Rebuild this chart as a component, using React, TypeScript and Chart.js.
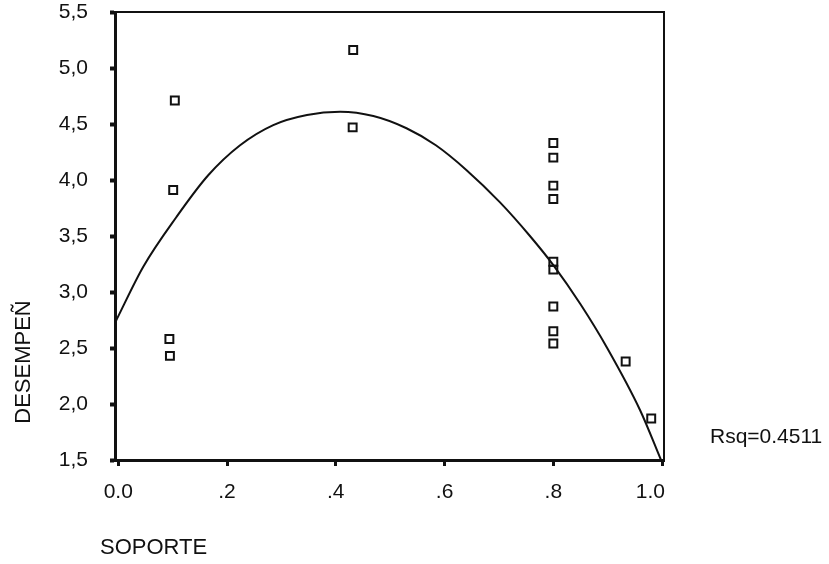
import { useEffect, useRef } from 'react';
import { Chart, registerables } from 'chart.js';

Chart.register(...registerables);

// Observed cases: SOPORTE (x) against DESEMPEÑ (y)
const soporte = [0.104, 0.101, 0.094, 0.095, 0.432, 0.431, 0.8, 0.8, 0.8, 0.8, 0.8, 0.8, 0.8, 0.8, 0.8, 0.933, 0.98];
const desempeno = [4.71, 3.91, 2.58, 2.43, 5.16, 4.47, 4.33, 4.2, 3.95, 3.83, 3.27, 3.2, 2.87, 2.65, 2.54, 2.38, 1.87];

// Fitted curve, sampled along SOPORTE
const curveX = [-0.005, 0.046, 0.107, 0.165, 0.224, 0.285, 0.347, 0.408, 0.469, 0.53, 0.584, 0.64, 0.702, 0.757, 0.8, 0.85, 0.899, 0.96, 0.998];
const curveY = [2.735, 3.226, 3.67, 4.04, 4.31, 4.49, 4.58, 4.609, 4.571, 4.462, 4.31, 4.09, 3.8, 3.5, 3.24, 2.89, 2.5, 1.94, 1.5];

// Axis ticks
const xTicks = [0, 0.2, 0.4, 0.6, 0.8, 1.0];
const xTickLabels = ['0.0', '.2', '.4', '.6', '.8', '1.0'];
const yTicks = [1.5, 2.0, 2.5, 3.0, 3.5, 4.0, 4.5, 5.0, 5.5];
const yTickLabels = ['1,5', '2,0', '2,5', '3,0', '3,5', '4,0', '4,5', '5,0', '5,5'];

const xTitle = 'SOPORTE';
const yTitle = 'DESEMPEÑ';
const fitNote = 'Rsq=0.4511';

const FONT = '"Liberation Sans", Arial, Helvetica, sans-serif';
const INK = '#111';

// Box around the plot area plus the axis captions and fit statistic
const framePlugin = {
  id: 'frameAndCaptions',
  afterDatasetsDraw(chart: any) {
    const { ctx, chartArea: a } = chart;
    ctx.save();
    ctx.strokeStyle = INK;
    ctx.lineWidth = 2;
    ctx.strokeRect(a.left, a.top, a.right - a.left, a.bottom - a.top);
    ctx.restore();
  },
  afterDraw(chart: any) {
    const { ctx, chartArea: a } = chart;
    ctx.save();
    ctx.fillStyle = INK;
    ctx.textBaseline = 'middle';

    ctx.font = `22px ${FONT}`;
    ctx.textAlign = 'left';
    ctx.fillText(xTitle, a.left - 15, a.bottom + 88);

    ctx.font = `21px ${FONT}`;
    ctx.fillText(fitNote, a.right + 46, a.bottom - 23);

    ctx.font = `22px ${FONT}`;
    ctx.translate(a.left - 91, a.bottom - 98);
    ctx.rotate(-Math.PI / 2);
    ctx.textAlign = 'center';
    ctx.fillText(yTitle, 0, 0);
    ctx.restore();
  },
};

export default function App() {
  const canvasRef = useRef<HTMLCanvasElement | null>(null);

  useEffect(() => {
    const canvas = canvasRef.current;
    if (!canvas) return;

    const tickFont = { family: FONT, size: 21, lineHeight: 1.1 };

    const chart = new Chart(canvas, {
      type: 'scatter',
      data: {
        datasets: [
          {
            label: 'DESEMPEÑ',
            data: soporte.map((x, i) => ({ x, y: desempeno[i] })),
            pointStyle: 'rect',
            pointRadius: 5.6,
            pointHoverRadius: 5.6,
            borderWidth: 2,
            borderColor: INK,
            backgroundColor: 'rgba(0,0,0,0)',
            order: 0,
          },
          {
            label: 'Ajuste',
            data: curveX.map((x, i) => ({ x, y: curveY[i] })),
            showLine: true,
            cubicInterpolationMode: 'monotone',
            borderColor: INK,
            borderWidth: 2,
            pointRadius: 0,
            pointHoverRadius: 0,
            fill: false,
            order: 1,
          } as any,
        ],
      },
      plugins: [framePlugin],
      options: {
        responsive: false,
        devicePixelRatio: 1,
        animation: false,
        events: [],
        layout: { padding: { left: 0, top: 12, right: 165, bottom: 0 } },
        plugins: {
          legend: { display: false },
          tooltip: { enabled: false },
        },
        scales: {
          x: {
            type: 'linear',
            min: -0.006,
            max: 1.0035,
            afterBuildTicks: (scale: any) => {
              scale.ticks = xTicks.map((value) => ({ value }));
            },
            afterFit: (scale: any) => {
              scale.height = 104;
              scale.paddingLeft = 0;
              scale.paddingRight = 0;
            },
            border: { display: true, color: INK, width: 3 },
            grid: {
              display: true,
              drawOnChartArea: false,
              drawTicks: true,
              tickLength: 6,
              tickWidth: 3,
              tickColor: INK,
            },
            ticks: {
              color: INK,
              font: tickFont,
              padding: 15,
              maxRotation: 0,
              autoSkip: false,
              callback: (_v: any, index: number) =>
                index === xTickLabels.length - 1
                  ? xTickLabels[index] + '    '
                  : xTickLabels[index],
            },
          },
          y: {
            type: 'linear',
            min: 1.5,
            max: 5.5,
            afterBuildTicks: (scale: any) => {
              scale.ticks = yTicks.map((value) => ({ value }));
            },
            afterFit: (scale: any) => {
              scale.width = 115;
              scale.paddingTop = 0;
              scale.paddingBottom = 0;
            },
            border: { display: true, color: INK, width: 3 },
            grid: {
              display: true,
              drawOnChartArea: false,
              drawTicks: true,
              tickLength: 5,
              tickWidth: 4,
              tickColor: INK,
            },
            ticks: {
              color: INK,
              font: tickFont,
              padding: 22,
              autoSkip: false,
              callback: (_v: any, index: number) => yTickLabels[index],
            },
          },
        },
      },
    });

    return () => chart.destroy();
  }, []);

  return (
    <div style={{ position: 'absolute', left: 0, top: 0, width: 829, height: 564, background: '#fff' }}>
      <canvas ref={canvasRef} width={829} height={564} style={{ display: 'block' }} />
    </div>
  );
}
